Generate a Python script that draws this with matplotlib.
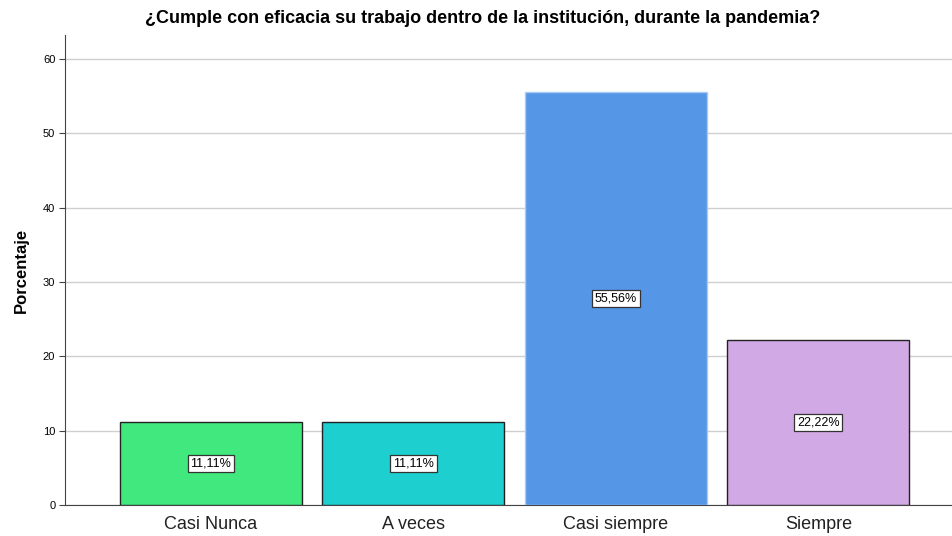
import numpy as np
import matplotlib.pyplot as plt

plt.rcParams['font.family'] = ['Liberation Sans', 'DejaVu Sans']

# Data
categorias = ["Casi Nunca", "A veces", "Casi siempre", "Siempre"]
porcentajes = [11.11, 11.11, 55.56, 22.22]
colores = ["#40E87E", "#1ECFCF", "#5596E6", "#D0A9E5"]
bordes = ["#222222", "#222222", "#A9CCF5", "#222222"]

fig = plt.figure(figsize=(9.52, 5.36), dpi=100)
ax = fig.add_axes([0.0683, 0.0578, 0.9317, 0.8769])

x = np.arange(len(categorias))
bars = ax.bar(x, porcentajes, width=0.9, color=colores, edgecolor=bordes,
              linewidth=1.0, zorder=3)

for xi, v in zip(x, porcentajes):
    ax.text(xi, v / 2, "{:.2f}%".format(v).replace(".", ","),
            ha='center', va='center', fontsize=9, zorder=4,
            bbox=dict(boxstyle='square,pad=0.22', facecolor='white',
                      edgecolor='#333333', linewidth=0.9))

ax.set_xlim(-0.72, 3.66)
ax.set_ylim(0, 63.2)
ax.set_yticks(range(0, 61, 10))
ax.set_xticks(x)
ax.set_xticklabels(categorias, fontsize=13, color='#222222')
ax.tick_params(axis='x', length=0, pad=8)
ax.tick_params(axis='y', labelsize=8, length=4, color='#444444', pad=3)
ax.yaxis.grid(True, color='#CFCFCF', linewidth=1.0, zorder=0)
ax.set_axisbelow(True)

for s in ['top', 'right']:
    ax.spines[s].set_visible(False)
ax.spines['left'].set_color('#444444')
ax.spines['bottom'].set_color('#444444')

ax.set_ylabel("Porcentaje", fontsize=12, fontweight='bold', labelpad=10)
fig.text(0.507, 0.966,
         "¿Cumple con eficacia su trabajo dentro de la institución, durante la pandemia?",
         ha='center', va='center', fontsize=13, fontweight='bold')

plt.savefig("out.png", dpi=100)
